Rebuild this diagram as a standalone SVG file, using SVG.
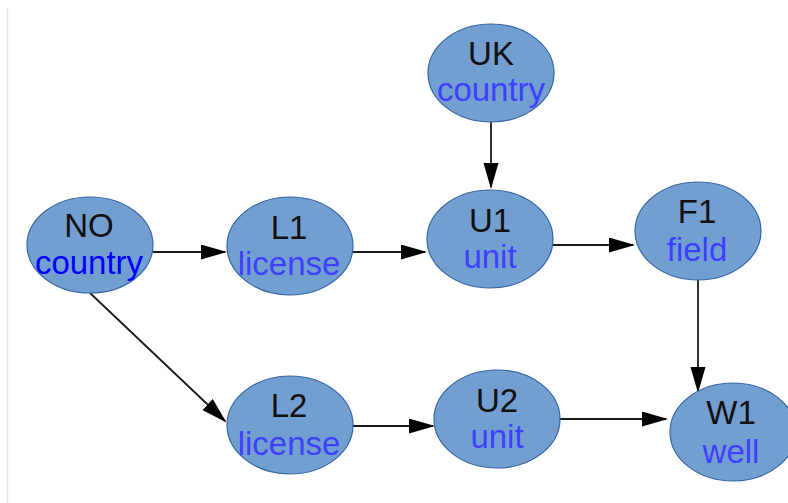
<svg xmlns="http://www.w3.org/2000/svg" width="788" height="503" viewBox="0 0 788 503">
  <style>
    .node ellipse { fill: #729fcf; stroke: #3465a4; stroke-width: 1.2; }
    .name { font-family: "Liberation Sans", Arial, sans-serif; font-size: 33px; fill: #111111; text-anchor: middle; }
    .kind { font-family: "Liberation Sans", Arial, sans-serif; font-size: 33px; fill: #3f3fff; text-anchor: middle; }
    .kind.strong { fill: #0000ff; }
    .edge { stroke: #1a1a1a; stroke-width: 1.8; fill: none; marker-end: url(#arrow); }
  </style>
  <defs>
    <marker id="arrow" markerUnits="userSpaceOnUse" markerWidth="28" markerHeight="16" refX="24" refY="7.5" orient="auto">
      <path d="M0,0 L26,7.5 L0,15 Z" fill="#000000"/>
    </marker>
  </defs>

  <rect width="788" height="503" fill="#ffffff"/>
  <line x1="7.5" y1="8" x2="7.5" y2="503" stroke="#e6e6e6" stroke-width="1.5"/>

  <g id="connectors">
    <line class="edge" x1="153" y1="252" x2="225" y2="252"/>
    <line class="edge" x1="353" y1="252" x2="425" y2="252"/>
    <line class="edge" x1="491" y1="122" x2="491" y2="187"/>
    <line class="edge" x1="553" y1="245" x2="633" y2="245"/>
    <line class="edge" x1="698" y1="280" x2="698" y2="391"/>
    <line class="edge" x1="90" y1="293" x2="225" y2="421"/>
    <line class="edge" x1="353" y1="426" x2="433" y2="426"/>
    <line class="edge" x1="560" y1="419" x2="666" y2="419"/>
  </g>

  <g id="node-NO" class="node">
    <ellipse cx="90" cy="245" rx="63" ry="48"/>
    <text class="name" x="89" y="237">NO</text>
    <text class="kind strong" x="89" y="274">country</text>
  </g>
  <g id="node-L1" class="node">
    <ellipse cx="290" cy="246" rx="63" ry="49"/>
    <text class="name" x="289" y="239">L1</text>
    <text class="kind" x="289" y="275">license</text>
  </g>
  <g id="node-UK" class="node">
    <ellipse cx="491" cy="73" rx="63" ry="49"/>
    <text class="name" x="491" y="65">UK</text>
    <text class="kind" x="491" y="101">country</text>
  </g>
  <g id="node-U1" class="node">
    <ellipse cx="490" cy="239" rx="63" ry="49"/>
    <text class="name" x="490" y="232">U1</text>
    <text class="kind" x="490" y="268">unit</text>
  </g>
  <g id="node-F1" class="node">
    <ellipse cx="698" cy="231" rx="63" ry="49"/>
    <text class="name" x="697" y="223">F1</text>
    <text class="kind" x="697" y="261">field</text>
  </g>
  <g id="node-L2" class="node">
    <ellipse cx="290" cy="425" rx="63" ry="49"/>
    <text class="name" x="289" y="417">L2</text>
    <text class="kind" x="289" y="455">license</text>
  </g>
  <g id="node-U2" class="node">
    <ellipse cx="497" cy="419" rx="63" ry="49"/>
    <text class="name" x="497" y="412">U2</text>
    <text class="kind" x="497" y="448">unit</text>
  </g>
  <g id="node-W1" class="node">
    <ellipse cx="733" cy="432" rx="63" ry="49"/>
    <text class="name" x="731" y="424">W1</text>
    <text class="kind" x="731" y="463">well</text>
  </g>
</svg>
